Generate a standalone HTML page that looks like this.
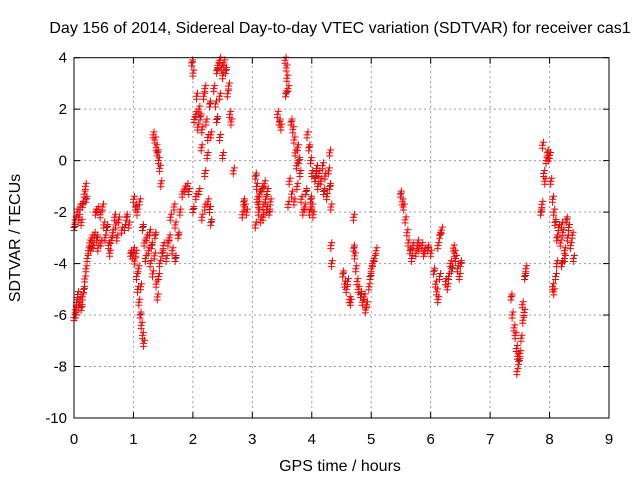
<!DOCTYPE html>
<html><head><meta charset="utf-8"><style>
body{margin:0;background:#fff}
svg{display:block;font-family:"Liberation Sans",sans-serif}
</style></head><body>
<svg id="c" width="640" height="480">
<text x="340" y="33" font-size="16" text-anchor="middle">Day 156 of 2014, Sidereal Day-to-day VTEC variation (SDTVAR) for receiver cas1</text>
<text x="340" y="471" font-size="16" text-anchor="middle">GPS time / hours</text>
<text transform="translate(20,238) rotate(-90)" font-size="16" text-anchor="middle">SDTVAR / TECUs</text>
<g id="grid"></g>
<g id="ticks"></g>
<g id="marks"></g>
<rect x="74" y="57.7" width="535" height="360.3" fill="none" stroke="#000" stroke-width="1"/>
</svg>
<script>
const xTicks=[0,1,2,3,4,5,6,7,8,9];
const yTicks=[4,2,0,-2,-4,-6,-8,-10];
const c0=[[0.0,-2.6],[0.02,-2.3],[0.05,-2.0],[0.08,-2.2],[0.1,-1.8],[0.12,-2.4],[0.14,-1.7],[0.02,-5.8],[0.04,-5.5],[0.06,-5.2],[0.08,-5.6],[0.1,-5.4],[0.12,-5.7],[0.14,-5.3],[0.0,-6.1],[0.03,-6.0]];
const c1=[[0.16,-5.0],[0.18,-4.6],[0.2,-4.2],[0.22,-3.8],[0.24,-3.5],[0.26,-3.2],[0.28,-3.4],[0.3,-3.0],[0.32,-3.3],[0.34,-2.9],[0.17,-1.3],[0.19,-1.0],[0.2,-1.5]];
const c2=[[0.36,-2.0],[0.4,-1.9],[0.44,-2.1],[0.48,-1.8],[0.5,-2.5],[0.52,-3.0],[0.55,-2.6],[0.58,-3.3],[0.6,-3.6],[0.62,-3.1],[0.45,-3.2],[0.4,-3.4],[0.38,-3.0],[0.65,-2.8],[0.7,-2.5],[0.75,-2.3],[0.8,-2.7],[0.85,-2.6],[0.88,-2.2],[0.92,-2.5],[0.68,-2.2],[0.72,-3.0]];
const c3=[[0.95,-3.6],[0.98,-3.7],[1.0,-3.5],[1.02,-3.9],[1.04,-3.6],[1.0,-1.5],[1.03,-1.8],[1.06,-2.0],[1.1,-1.6],[1.05,-4.5],[1.07,-5.0],[1.09,-5.5],[1.11,-6.0],[1.13,-6.4],[1.15,-6.8],[1.17,-7.1],[1.12,-4.9],[1.08,-4.2]];
const c4=[[1.15,-2.6],[1.18,-3.2],[1.2,-3.8],[1.22,-3.0],[1.25,-3.5],[1.28,-4.0],[1.3,-3.3],[1.32,-4.4],[1.35,-3.7],[1.38,-4.8],[1.4,-5.3],[1.42,-4.5],[1.36,-2.9],[1.27,-2.8],[1.44,-4.0],[1.33,1.0],[1.36,0.8],[1.38,0.5],[1.4,0.3],[1.42,0.0],[1.44,-0.3],[1.46,-0.9]];
const c5=[[1.48,-3.6],[1.5,-3.3],[1.55,-3.8],[1.6,-3.0],[1.65,-3.5],[1.7,-2.5],[1.75,-2.9],[1.78,-2.0],[1.82,-1.3],[1.86,-1.1],[1.9,-1.0],[1.93,-1.2],[1.7,-3.8],[1.62,-2.2],[1.68,-1.8],[1.58,-3.2]];
const c6=[[1.98,3.8],[2.0,3.4],[2.02,1.6],[2.05,1.8],[2.08,1.3],[2.1,2.0],[2.12,1.7],[2.15,1.2],[2.18,2.5],[2.2,2.8],[2.22,1.5],[2.25,0.9],[2.28,2.2],[2.3,1.0],[2.06,2.5],[2.14,0.5],[2.2,-0.5],[2.24,0.2],[2.0,-1.9],[2.05,-1.4],[2.1,-1.2],[2.15,-2.2],[2.2,-1.8],[2.25,-1.6],[2.3,-2.4],[2.28,-1.9]];
const c7=[[2.4,3.5],[2.42,3.7],[2.45,3.9],[2.48,3.6],[2.5,3.3],[2.52,3.8],[2.55,3.5],[2.58,2.6],[2.6,2.9],[2.62,1.8],[2.64,1.5],[2.38,2.2],[2.4,1.6],[2.45,0.9],[2.5,0.2],[2.68,-0.4],[2.35,2.8],[2.45,2.5],[2.85,-1.6],[2.87,-1.8],[2.9,-2.0],[2.83,-2.1]];
const c8=[[3.05,-0.6],[3.07,-1.0],[3.08,-1.5],[3.1,-2.0],[3.12,-1.3],[3.14,-2.3],[3.16,-1.1],[3.18,-1.8],[3.2,-0.9],[3.05,-2.5],[3.22,-1.5],[3.25,-1.2],[3.28,-2.0],[3.3,-1.6],[3.1,-1.7],[3.18,-2.2],[3.24,-1.9],[3.42,1.8],[3.45,1.5],[3.48,1.3],[3.55,3.9],[3.57,3.6],[3.58,3.2],[3.6,2.8],[3.56,2.6]];
const c9=[[3.65,1.5],[3.68,1.2],[3.7,0.8],[3.72,0.3],[3.74,-0.2],[3.76,0.5],[3.78,0.0],[3.8,-0.5],[3.75,-1.0],[3.82,-1.5],[3.85,-2.0],[3.88,-1.8],[3.9,-1.2],[3.7,-1.6],[3.66,-1.3],[3.62,-0.8],[3.6,-1.7],[3.92,1.0],[3.95,0.5],[3.98,0.0],[4.0,-0.5],[3.96,-2.0],[4.0,-1.8],[4.02,-2.1],[3.98,-1.5]];
const c10=[[4.05,-0.7],[4.08,-0.3],[4.1,-1.0],[4.12,-0.5],[4.15,-0.8],[4.18,-0.2],[4.2,-1.2],[4.22,-0.6],[4.25,-1.4],[4.28,-0.4],[4.3,0.3],[4.32,-1.8],[4.3,-1.0],[4.32,-3.3],[4.33,-4.0]];
const c11=[[4.52,-4.4],[4.55,-4.8],[4.58,-5.0],[4.6,-4.7],[4.63,-5.4],[4.65,-5.5],[4.7,-3.4],[4.72,-3.7],[4.74,-4.2],[4.76,-4.7],[4.78,-5.0],[4.7,-2.2],[4.82,-5.2],[4.85,-5.5],[4.88,-5.3],[4.9,-5.8],[4.92,-5.6],[4.96,-4.9],[4.98,-4.5],[5.0,-4.2],[5.02,-4.0],[5.05,-3.8],[5.08,-3.5]];
const c12=[[5.49,-1.3],[5.52,-1.6],[5.54,-1.8],[5.57,-2.3],[5.6,-2.8],[5.62,-3.2],[5.65,-3.5],[5.7,-3.3],[5.75,-3.6],[5.8,-3.4],[5.85,-3.3],[5.9,-3.5],[5.95,-3.4],[6.0,-3.6],[5.68,-3.8],[5.78,-3.2],[5.88,-3.6]];
const c13=[[6.05,-4.3],[6.08,-4.8],[6.1,-5.1],[6.12,-5.4],[6.15,-4.5],[6.12,-3.3],[6.15,-2.9],[6.18,-2.7],[6.25,-4.7],[6.28,-4.9],[6.3,-4.5],[6.33,-4.0],[6.35,-4.2],[6.38,-3.4],[6.4,-3.6],[6.42,-3.8],[6.45,-4.2],[6.48,-4.5],[6.5,-4.0]];
const c14=[[7.35,-5.3],[7.37,-6.0],[7.4,-6.5],[7.42,-6.8],[7.44,-7.3],[7.46,-7.6],[7.48,-7.8],[7.5,-7.5],[7.45,-8.2],[7.52,-6.9],[7.55,-6.2],[7.57,-5.9],[7.58,-4.5],[7.6,-4.2],[7.54,-5.6]];
const c15=[[7.85,-2.0],[7.87,-1.7],[7.88,0.6],[7.9,-0.5],[7.92,-0.8],[7.94,0.0],[7.96,0.3],[7.98,0.1],[8.0,0.2],[8.02,-0.8],[8.05,-1.5],[8.07,-2.0],[8.09,-2.4],[8.05,-4.9],[8.07,-5.1],[8.1,-4.5],[8.12,-4.0]];
const c16=[[8.12,-3.0],[8.15,-2.6],[8.18,-3.2],[8.2,-2.5],[8.22,-2.8],[8.25,-3.5],[8.28,-2.3],[8.3,-3.0],[8.32,-2.6],[8.35,-3.3],[8.38,-2.9],[8.4,-3.8],[8.2,-4.0],[8.25,-3.8]];
const clusters=[c0,c1,c2,c3,c4,c5,c6,c7,c8,c9,c10,c11,c12,c13,c14,c15,c16];

const X0=74,X1=609,Y0=418,Y1=57.7;
function sx(t){return X0+(t-0)/(9-0)*(X1-X0);}
function sy(v){return Y0-(v-(-10))/(4-(-10))*(Y0-Y1);}
const NS="http://www.w3.org/2000/svg";
function mk(tag,a,p){const e=document.createElementNS(NS,tag);for(const k in a)e.setAttribute(k,a[k]);p.appendChild(e);return e;}
const grid=document.getElementById('grid'),ticks=document.getElementById('ticks'),marks=document.getElementById('marks');
xTicks.forEach(t=>{const x=sx(t);
 if(t>0&&t<9){const g=mk('line',{x1:x,x2:x,y1:Y0,y2:Y1,stroke:'#999','stroke-dasharray':'2,3'},grid);
 
 }
 mk('line',{x1:x,x2:x,y1:Y0,y2:Y0-6,stroke:'#000'},ticks);
 mk('line',{x1:x,x2:x,y1:Y1,y2:Y1+6,stroke:'#000'},ticks);
 const l=mk('text',{x:x,y:444,'font-size':15,'text-anchor':'middle'},ticks);l.textContent=t;
 
 });
yTicks.forEach(v=>{const y=sy(v);
 if(v>-10&&v<4){const g=mk('line',{x1:X0,x2:X1,y1:y,y2:y,stroke:'#999','stroke-dasharray':'2,3'},grid);
 
 }
 mk('line',{x1:X0,x2:X0+6,y1:y,y2:y,stroke:'#000'},ticks);
 mk('line',{x1:X1,x2:X1-6,y1:y,y2:y,stroke:'#000'},ticks);
 const l=mk('text',{x:X0-7,y:y+5,'font-size':15,'text-anchor':'end'},ticks);l.textContent=v;
 
 });
const offs=[[0,0],[0,3],[1,-3]];
function plus(x,y,col,p){const s=3.5;return mk('path',{d:`M${x-s},${y}H${x+s}M${x},${y-s}V${y+s}`,stroke:col,'stroke-width':1,fill:'none'},p);}
clusters.forEach(cl=>cl.forEach((pt,i)=>{
 const x=sx(pt[0]),y=sy(pt[1]);
 if(i%6===0){const b=plus(x+1,y-1,'#444',marks);
  
  }
 offs.forEach(o=>{const m=plus(x+o[0],y+o[1],'#f00',marks);
  
  });
}));
</script>
</body></html>
